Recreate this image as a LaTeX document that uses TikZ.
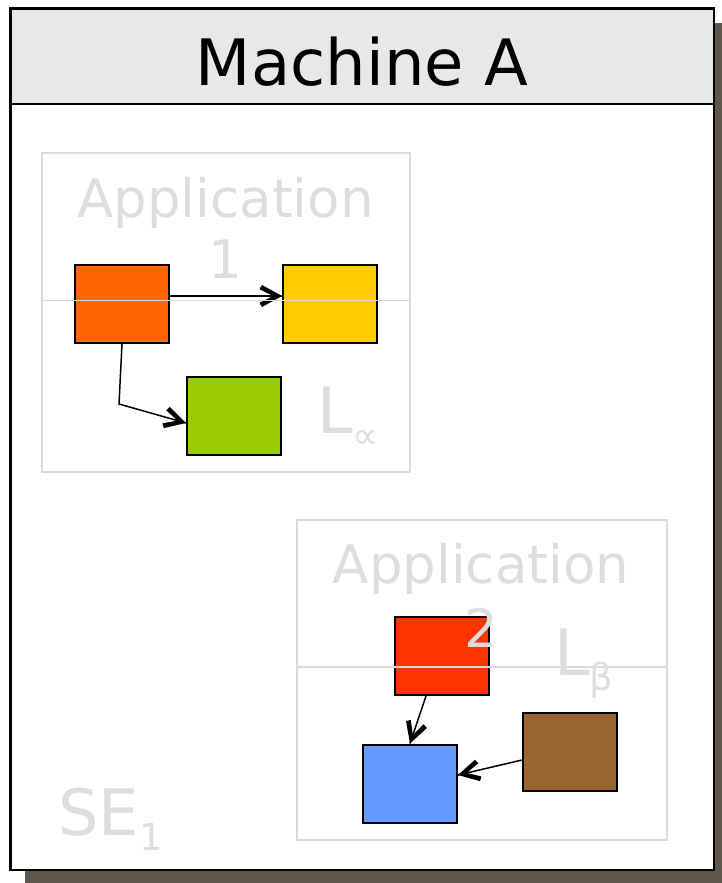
\documentclass[tikz,border=0pt]{standalone}
\usepackage{fontspec}
\setmainfont{DejaVu Sans}
\usetikzlibrary{calc,decorations.markings}

\definecolor{shadowc}{HTML}{5F574B}
\definecolor{headc}{HTML}{E8E8E8}
\definecolor{faint}{HTML}{DDDDDD}
\definecolor{framec}{HTML}{D9D9D9}
\definecolor{c-orange}{HTML}{FF6600}
\definecolor{c-yellow}{HTML}{FFCC00}
\definecolor{c-green}{HTML}{99CC00}
\definecolor{c-red}{HTML}{FF3300}
\definecolor{c-blue}{HTML}{6699FF}
\definecolor{c-brown}{HTML}{996633}

\begin{document}
\begin{tikzpicture}[x=1pt,y=-1pt,
  comp/.style={draw=black, line width=2pt, minimum width=94pt, minimum height=78pt, inner sep=0pt},
  appbox/.style={draw=framec, line width=1.8pt, inner sep=0pt},
  divider/.style={draw=framec, line width=1.5pt},
  % thin shaft ending in a bold open chevron
  flow/.style={draw=black, line width=1.5pt,
    postaction={decorate, decoration={markings,
      mark=at position 1 with {\fill[black]
        (0pt,0pt) -- (-20pt,-11pt) -- (-22.5pt,-6.8pt) -- (-9pt,0pt)
        -- (-22.5pt,6.8pt) -- (-20pt,11pt) -- cycle;}}}},
  faintlbl/.style={text=faint, inner sep=0pt},
  apptext/.style={faintlbl, font=\fontsize{53}{62}\selectfont, anchor=base},
  biglbl/.style={faintlbl, font=\fontsize{64}{70}\selectfont, anchor=base west},
]
\useasboundingbox (0,0) rectangle (721,883);

% machine frame with drop shadow and title band
\fill[shadowc] (25,23) rectangle (729,885);
\fill[white] (10.5,8.5) rectangle (714,870);
\fill[headc] (10.5,8.5) rectangle (714,104);
\draw[line width=1.3pt] (10.5,104) -- (714,104);
\draw[line width=2.4pt] (10.5,8.5) rectangle (714,870);
\node[anchor=base, inner sep=0pt, font=\fontsize{64}{70}\selectfont] (title) at (362,85) {Machine A};

% components of application 1
\node[comp, fill=c-orange] (o) at (122,304) {};
\node[comp, fill=c-yellow] (y) at (330,304) {};
\node[comp, fill=c-green]  (g) at (234,416) {};
\coordinate (bend1) at (119,404);
\draw[flow] ([yshift=8pt]o.east) -- ([yshift=8pt]y.west);
\draw[flow] (o.south) -- (bend1) -- ([yshift=-7pt]g.west);

% application 1 container
\node[appbox, minimum width=368pt, minimum height=319pt] (app1) at (226,312.5) {};
\draw[divider] ($(app1.west)+(0,-12)$) -- ($(app1.east)+(0,-12)$);
\node[apptext] (app1a) at (225.5,217) {Application};
\node[apptext] (app1b) at (225.5,278) {1};
\node[biglbl] (lprop) at (317,433) {L\raisebox{-15pt}{\fontsize{37}{40}\selectfont ∝}};

% components of application 2
\node[comp, fill=c-red]   (r)  at (442,656) {};
\node[comp, fill=c-blue]  (b)  at (410,783.5) {};
\node[comp, fill=c-brown] (br) at (570,752) {};
\draw[flow] ([xshift=-16pt]r.south) -- (b.north);
\draw[flow] ([yshift=-8pt]br.west) -- ([yshift=8.5pt]b.east);

% application 2 container
\node[appbox, minimum width=370pt, minimum height=320pt] (app2) at (482,680) {};
\draw[divider] ($(app2.west)+(0,-13)$) -- ($(app2.east)+(0,-13)$);
\node[apptext] (app2a) at (481,583) {Application};
\node[apptext] (app2b) at (481,647) {2};
\node[biglbl] (lbeta) at (554,675) {L\raisebox{-15pt}{\fontsize{37}{40}\selectfont β}};

% execution environment label
\node[biglbl] (se) at (58,835) {SE\raisebox{-15pt}{\fontsize{37}{40}\selectfont 1}};
\end{tikzpicture}
\end{document}
